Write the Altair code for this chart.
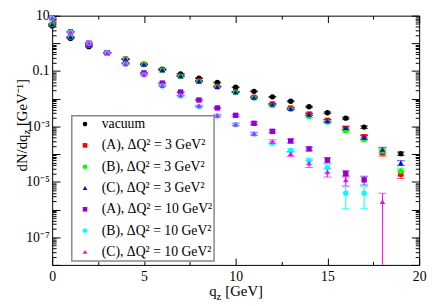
import math
import altair as alt
import pandas as pd

# ---------------- data ----------------
qz = list(range(20))

series_names = [
    "vacuum",
    "(A), ΔQ² = 3 GeV²",
    "(B), ΔQ² = 3 GeV²",
    "(C), ΔQ² = 3 GeV²",
    "(A), ΔQ² = 10 GeV²",
    "(B), ΔQ² = 10 GeV²",
    "(C), ΔQ² = 10 GeV²",
]
colors = ["#000000", "#ff0000", "#00ff00", "#0000ff", "#9400d3", "#00ffff", "#ff00ff"]
shapes = ["circle", "square", "circle", "triangle-up", "square", "circle", "triangle-up"]

vacuum = [4.27, 1.51, 0.762, 0.458, 0.267, 0.172, 0.118, 0.0794, 0.0550, 0.0387,
          0.0260, 0.0185, 0.0117, 0.00813, 0.00516, 0.00313, 0.00199, 0.000946, None, 0.000104]
a3 = [4.85, 1.67, 0.86, 0.455, 0.27, 0.175, 0.11, 0.066, 0.0435, 0.0278,
      0.0177, 0.0113, 0.0065, 0.0046, 0.0028, 0.00165, 0.00083, 0.00042, 0.000113, 0.000019]
b3 = [4.8, 1.66, 0.85, 0.45, 0.268, 0.172, 0.108, 0.064, 0.042, 0.0265,
      0.0168, 0.0106, 0.0057, 0.0042, 0.0023, 0.00144, 0.00072, 0.00034, 0.000129, 0.000024]
c3 = [4.89, 1.69, 0.867, 0.458, 0.271, 0.176, 0.111, 0.0661, 0.0433, 0.0275,
      0.0175, 0.0112, 0.0064, 0.0044, 0.00273, 0.0016, 0.000895, 0.000404, 0.000147, 0.0000481]
a10 = [8.3, 2.6, 1.02, 0.46, 0.195, 0.086, 0.0369, 0.0175, 0.00902, 0.00466,
       0.00252, 0.0013, 0.000667, 0.0003, 0.000155, 0.000061, 0.00002, 0.0000118, None, None]
b10 = [8.1, 2.5, 0.98, 0.45, 0.178, 0.073, 0.029, 0.0125, 0.0052, 0.0024,
       0.00115, 0.00053, 0.00025, 0.000135, 0.000058, 0.0000315, 0.00000387, 0.00000387, None, None]
c10 = [8.3, 2.58, 1.02, 0.458, 0.182, 0.0757, 0.0298, 0.0134, 0.00558, 0.00252,
       0.0012, 0.000555, 0.000286, 0.000104, 0.0000469, 0.0000229, 0.0000118, None, 0.00000194, None]

# relative errors (fraction of value)
err_vac = [0.03] * 13 + [0.04, 0.05, 0.06, 0.08, 0.1, None, 0.15]
err_a3 = [0.03] * 12 + [0.05, 0.07, 0.08, 0.1, 0.15, 0.18, 0.25, 0.3]
err_b3 = [0.03] * 12 + [0.05, 0.07, 0.08, 0.1, 0.15, 0.18, 0.25, 0.3]
err_c3 = [0.03] * 12 + [0.05, 0.07, 0.08, 0.1, 0.15, 0.18, 0.2, 0.2]
err_a10 = [0.03] * 8 + [0.05, 0.06, 0.08, 0.1, 0.12, 0.16, 0.15, 0.22, 0.25, 0.35, None, None]
err_b10 = [0.03] * 8 + [0.05, 0.07, 0.1, 0.12, 0.15, 0.15, 0.25, 0.3, 0.72, 0.72, None, None]
err_c10 = [0.03] * 8 + [0.05, 0.07, 0.1, 0.12, 0.15, 0.2, 0.3, 0.35, 0.4, None, 1.0, None]

x_major = [0, 5, 10, 15, 20]
x_minor = [2.5, 7.5, 12.5, 17.5]
y_major = [10.0 ** e for e in range(-8, 2)]
y_minor = [k * 10.0 ** e for e in range(-8, 1) for k in range(2, 10)]
y_label_vals = [10, 0.1, 1e-3, 1e-5, 1e-7]
y_label_txt = ["10", "0.1", "10⁻³", "10⁻⁵", "10⁻⁷"]

# ---------------- table ----------------
values = [vacuum, a3, b3, c3, a10, b10, c10]
errors = [err_vac, err_a3, err_b3, err_c3, err_a10, err_b10, err_c10]
rows = []
for name, vals, errs in zip(series_names, values, errors):
    for x, v, r in zip(qz, vals, errs):
        if v is None:
            continue
        e = v * r
        lo = v - e
        rows.append({
            "series": name, "qz": x, "v": v, "hi": v + e,
            "lo": lo if lo > 0 else None,
            "lo_bar": lo if lo > 0 else 1e-12,
        })
df = pd.DataFrame(rows)

W, H = 374, 254
FONT = "Liberation Serif"
xs = alt.Scale(domain=[0, 20], nice=False, zero=False)
ys = alt.Scale(type="log", domain=[1e-8, 10], clamp=True, nice=False)


def col(legend=False):
    if legend:
        return alt.Color("series:N", scale=alt.Scale(domain=series_names, range=colors), title=None)
    return alt.Color("series:N", scale=alt.Scale(domain=series_names, range=colors), legend=None)


rules = alt.Chart(df).mark_rule(strokeWidth=1).encode(
    x=alt.X("qz:Q", scale=xs, axis=None),
    y=alt.Y("lo_bar:Q", scale=ys, axis=None),
    y2="hi:Q",
    color=col(),
)
cap_hi = alt.Chart(df).mark_tick(orient="horizontal", size=8, thickness=1).encode(
    x=alt.X("qz:Q", scale=xs, axis=None),
    y=alt.Y("hi:Q", scale=ys, axis=None),
    color=col(),
)
cap_lo = alt.Chart(df).mark_tick(orient="horizontal", size=8, thickness=1).encode(
    x=alt.X("qz:Q", scale=xs, axis=None),
    y=alt.Y("lo:Q", scale=ys, axis=None),
    color=col(),
)
points = alt.Chart(df).mark_point(filled=True, size=30, opacity=1).encode(
    x=alt.X("qz:Q", scale=xs, axis=None),
    y=alt.Y("v:Q", scale=ys, axis=None),
    color=col(True),
    shape=alt.Shape("series:N", scale=alt.Scale(domain=series_names, range=shapes), title=None),
)


def axis_layer(xaxis, yaxis):
    return alt.Chart(df).mark_point(opacity=0).encode(
        x=alt.X("qz:Q", scale=xs, axis=xaxis),
        y=alt.Y("v:Q", scale=ys, axis=yaxis),
    )


common = dict(grid=False, domain=False, title=None)
lab_expr = " : ".join(
    f"abs(log(datum.value)/LN10 - ({math.log10(v):.0f})) < 0.01 ? '{t}'"
    for v, t in zip(y_label_vals, y_label_txt)
) + " : ''"

ax_labels = axis_layer(
    alt.Axis(values=x_major, format="d", ticks=False, labelFont=FONT, labelFontSize=14,
             labelColor="black", labelPadding=5, labelFlush=False, **common),
    alt.Axis(values=y_label_vals, labelExpr=lab_expr, ticks=False, labelFont=FONT,
             labelFontSize=14, labelColor="black", labelPadding=3, labelOverlap=False, **common),
)
ax_in1_major = axis_layer(
    alt.Axis(orient="top", offset=-H, values=x_major, tickSize=7, labels=False, tickColor="black", **common),
    alt.Axis(orient="right", offset=-W, values=y_major, tickSize=8, labels=False, tickColor="black", **common),
)
ax_in1_minor = axis_layer(
    alt.Axis(orient="top", offset=-H, values=x_minor, tickSize=3.5, labels=False, tickColor="black", **common),
    alt.Axis(orient="right", offset=-W, values=y_minor, tickSize=4, labels=False, tickColor="black", **common),
)
ax_in2_major = axis_layer(
    alt.Axis(orient="bottom", offset=-H, values=x_major, tickSize=7, labels=False, tickColor="black", **common),
    alt.Axis(orient="left", offset=-W, values=y_major, tickSize=8, labels=False, tickColor="black", **common),
)
ax_in2_minor = axis_layer(
    alt.Axis(orient="bottom", offset=-H, values=x_minor, tickSize=3.5, labels=False, tickColor="black", **common),
    alt.Axis(orient="left", offset=-W, values=y_minor, tickSize=4, labels=False, tickColor="black", **common),
)


def txt(s, x, y, size=15, angle=0):
    kw = dict(align="left", baseline="alphabetic", font=FONT, fontSize=size, color="black")
    if angle:
        kw["angle"] = angle
    return alt.Chart(pd.DataFrame({"t": [s]})).mark_text(**kw).encode(
        text="t:N", x=alt.value(x), y=alt.value(y))


titles = [
    txt("q", 160, 285.5),
    txt("z", 167.5, 289.5, size=11),
    txt("[GeV]", 176.5, 285.5),
    txt("dN/dq", -26, 158.7, angle=270),
    txt("z", -22.5, 121.2, size=11, angle=270),
    txt("[GeV⁻¹]", -26, 112.5, angle=270),
]

chart = alt.layer(
    ax_in1_major, ax_in1_minor, ax_in2_major, ax_in2_minor, ax_labels,
    rules, cap_hi, cap_lo, points, *titles,
).resolve_axis(x="independent", y="independent").resolve_scale(
    color="independent", shape="independent"
).properties(
    width=W, height=H,
    autosize=alt.AutoSizeParams(type="none"),
    padding={"left": 45, "top": 5, "right": 9, "bottom": 37},
).configure_view(stroke="black", strokeWidth=1).configure_legend(
    orient="none", legendX=20, legendY=102, padding=1.5, rowPadding=7.7,
    labelFont=FONT, labelFontSize=14, labelColor="black", labelLimit=300,
    symbolSize=22, symbolOffset=5, labelOffset=10, symbolStrokeWidth=0,
    strokeColor="#888888", strokeWidth=1.5, fillColor="white",
)

chart.save("out.html", embed_options={"renderer": "svg", "actions": False})
